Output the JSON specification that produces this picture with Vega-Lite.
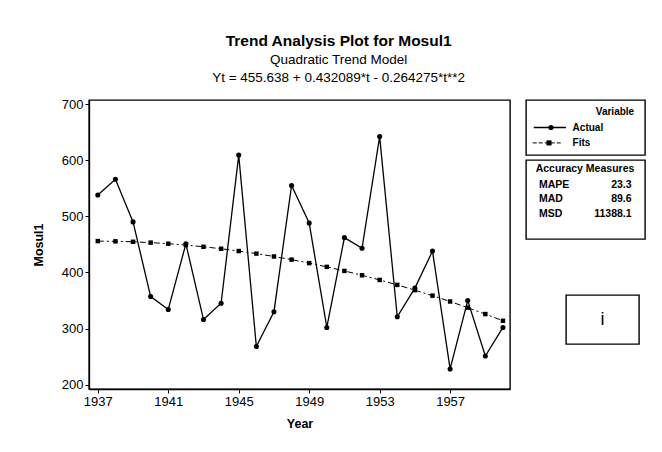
{
  "$schema": "https://vega.github.io/schema/vega-lite/v6.json",
  "background": "white",
  "padding": {"left": 31, "top": 34, "right": 10, "bottom": 8},
  "title": {
    "text": "Trend Analysis Plot for Mosul1",
    "subtitle": ["Quadratic Trend Model", "Yt = 455.638 + 0.432089*t - 0.264275*t**2"],
    "font": "Liberation Sans",
    "fontSize": 15.5,
    "fontWeight": "bold",
    "color": "black",
    "subtitleFont": "Liberation Sans",
    "subtitleFontSize": 13.5,
    "subtitleColor": "black",
    "subtitleLineHeight": 18,
    "subtitlePadding": 3,
    "offset": 13,
    "anchor": "middle"
  },
  "datasets": {
    "series": [
      {"Year": 1937, "Series": "Actual", "Value": 538},
      {"Year": 1938, "Series": "Actual", "Value": 566},
      {"Year": 1939, "Series": "Actual", "Value": 490},
      {"Year": 1940, "Series": "Actual", "Value": 357},
      {"Year": 1941, "Series": "Actual", "Value": 334},
      {"Year": 1942, "Series": "Actual", "Value": 451},
      {"Year": 1943, "Series": "Actual", "Value": 316},
      {"Year": 1944, "Series": "Actual", "Value": 345},
      {"Year": 1945, "Series": "Actual", "Value": 609},
      {"Year": 1946, "Series": "Actual", "Value": 268},
      {"Year": 1947, "Series": "Actual", "Value": 330},
      {"Year": 1948, "Series": "Actual", "Value": 555},
      {"Year": 1949, "Series": "Actual", "Value": 488},
      {"Year": 1950, "Series": "Actual", "Value": 302},
      {"Year": 1951, "Series": "Actual", "Value": 462},
      {"Year": 1952, "Series": "Actual", "Value": 443},
      {"Year": 1953, "Series": "Actual", "Value": 642},
      {"Year": 1954, "Series": "Actual", "Value": 321},
      {"Year": 1955, "Series": "Actual", "Value": 372},
      {"Year": 1956, "Series": "Actual", "Value": 438},
      {"Year": 1957, "Series": "Actual", "Value": 228},
      {"Year": 1958, "Series": "Actual", "Value": 350},
      {"Year": 1959, "Series": "Actual", "Value": 251},
      {"Year": 1960, "Series": "Actual", "Value": 302},
      {"Year": 1937, "Series": "Fits", "Value": 455.8},
      {"Year": 1938, "Series": "Fits", "Value": 455.4},
      {"Year": 1939, "Series": "Fits", "Value": 454.6},
      {"Year": 1940, "Series": "Fits", "Value": 453.1},
      {"Year": 1941, "Series": "Fits", "Value": 451.2},
      {"Year": 1942, "Series": "Fits", "Value": 448.7},
      {"Year": 1943, "Series": "Fits", "Value": 445.7},
      {"Year": 1944, "Series": "Fits", "Value": 442.2},
      {"Year": 1945, "Series": "Fits", "Value": 438.1},
      {"Year": 1946, "Series": "Fits", "Value": 433.5},
      {"Year": 1947, "Series": "Fits", "Value": 428.4},
      {"Year": 1948, "Series": "Fits", "Value": 422.8},
      {"Year": 1949, "Series": "Fits", "Value": 416.6},
      {"Year": 1950, "Series": "Fits", "Value": 409.9},
      {"Year": 1951, "Series": "Fits", "Value": 402.7},
      {"Year": 1952, "Series": "Fits", "Value": 394.9},
      {"Year": 1953, "Series": "Fits", "Value": 386.6},
      {"Year": 1954, "Series": "Fits", "Value": 377.8},
      {"Year": 1955, "Series": "Fits", "Value": 368.4},
      {"Year": 1956, "Series": "Fits", "Value": 358.6},
      {"Year": 1957, "Series": "Fits", "Value": 348.2},
      {"Year": 1958, "Series": "Fits", "Value": 337.2},
      {"Year": 1959, "Series": "Fits", "Value": 325.8},
      {"Year": 1960, "Series": "Fits", "Value": 313.8}
    ],
    "legendLines": [
      {"s": "Actual", "x": 0.78, "y": 0.5},
      {"s": "Actual", "x": 4.03, "y": 0.5},
      {"s": "Fits", "x": 0.68, "y": 0.78},
      {"s": "Fits", "x": 3.53, "y": 0.78}
    ],
    "legendMarks": [
      {"s": "Actual", "x": 2.52, "y": 0.5},
      {"s": "Fits", "x": 2.32, "y": 0.78}
    ],
    "legendText": [
      {"t": "Actual", "x": 4.7, "y": 0.5},
      {"t": "Fits", "x": 4.7, "y": 0.78}
    ],
    "legendTitle": [
      {"t": "Variable", "x": 8.97, "y": 0.21}
    ],
    "accTitle": [
      {"t": "Accuracy Measures", "x": 5.95, "y": 0.11}
    ],
    "acc": [
      {"m": "MAPE", "v": "23.3", "y": 0.32},
      {"m": "MAD", "v": "89.6", "y": 0.49},
      {"m": "MSD", "v": "11388.1", "y": 0.68}
    ],
    "ibox": [
      {"t": "i", "x": 0.5, "y": 0.5}
    ]
  },
  "spacing": 14,
  "hconcat": [
    {
      "width": 421,
      "height": 289,
      "layer": [
        {
          "data": {"name": "series"},
          "transform": [{"filter": "datum.Series === 'Fits'"}],
          "mark": {"type": "line", "color": "black", "strokeWidth": 1, "strokeDash": [6, 3, 2, 3],
                   "point": {"filled": true, "shape": "square", "size": 20, "color": "black"}},
          "encoding": {
            "x": {"field": "Year", "type": "quantitative",
                  "scale": {"domain": [1936.5, 1960.4], "nice": false, "zero": false},
                  "axis": {"values": [1937, 1941, 1945, 1949, 1953, 1957], "format": "d", "title": "Year", "titlePadding": 9}},
            "y": {"field": "Value", "type": "quantitative",
                  "scale": {"domain": [192.3, 707.2], "nice": false, "zero": false},
                  "axis": {"values": [200, 300, 400, 500, 600, 700], "title": "Mosul1", "titlePadding": 16}}
          }
        },
        {
          "data": {"name": "series"},
          "transform": [{"filter": "datum.Series === 'Actual'"}],
          "mark": {"type": "line", "color": "black", "strokeWidth": 1.3,
                   "point": {"filled": true, "shape": "circle", "size": 26, "color": "black"}},
          "encoding": {
            "x": {"field": "Year", "type": "quantitative"},
            "y": {"field": "Value", "type": "quantitative"}
          }
        }
      ]
    },
    {
      "spacing": 54,
      "vconcat": [
        {
          "spacing": 3,
          "vconcat": [
            {
              "width": 119,
              "height": 55,
              "layer": [
                {
                  "data": {"name": "legendLines"},
                  "transform": [{"filter": "datum.s === 'Actual'"}],
                  "mark": {"type": "line", "color": "black", "strokeWidth": 1.3},
                  "encoding": {
                    "x": {"field": "x", "type": "quantitative", "scale": {"domain": [0, 12], "nice": false}, "axis": null},
                    "y": {"field": "y", "type": "quantitative", "scale": {"domain": [0, 1], "reverse": true, "nice": false}, "axis": null}
                  }
                },
                {
                  "data": {"name": "legendLines"},
                  "transform": [{"filter": "datum.s === 'Fits'"}],
                  "mark": {"type": "line", "color": "black", "strokeWidth": 1, "strokeDash": [4, 2]},
                  "encoding": {
                    "x": {"field": "x", "type": "quantitative"},
                    "y": {"field": "y", "type": "quantitative"}
                  }
                },
                {
                  "data": {"name": "legendMarks"},
                  "mark": {"type": "point", "filled": true, "color": "black", "opacity": 1},
                  "encoding": {
                    "x": {"field": "x", "type": "quantitative"},
                    "y": {"field": "y", "type": "quantitative"},
                    "shape": {"field": "s", "type": "nominal", "scale": {"domain": ["Actual", "Fits"], "range": ["circle", "square"]}, "legend": null},
                    "size": {"value": 26}
                  }
                },
                {
                  "data": {"name": "legendText"},
                  "mark": {"type": "text", "align": "left", "baseline": "middle", "fontSize": 10, "fontWeight": "bold", "font": "Liberation Sans"},
                  "encoding": {
                    "x": {"field": "x", "type": "quantitative"},
                    "y": {"field": "y", "type": "quantitative"},
                    "text": {"field": "t"}
                  }
                },
                {
                  "data": {"name": "legendTitle"},
                  "mark": {"type": "text", "align": "center", "baseline": "middle", "fontSize": 10, "fontWeight": "bold", "font": "Liberation Sans"},
                  "encoding": {
                    "x": {"field": "x", "type": "quantitative"},
                    "y": {"field": "y", "type": "quantitative"},
                    "text": {"field": "t"}
                  }
                }
              ]
            },
            {
              "width": 119,
              "height": 79,
              "layer": [
                {
                  "data": {"name": "accTitle"},
                  "mark": {"type": "text", "align": "center", "baseline": "middle", "fontSize": 10.5, "fontWeight": "bold", "font": "Liberation Sans"},
                  "encoding": {
                    "x": {"field": "x", "type": "quantitative", "scale": {"domain": [0, 12], "nice": false}, "axis": null},
                    "y": {"field": "y", "type": "quantitative", "scale": {"domain": [0, 1], "reverse": true, "nice": false}, "axis": null},
                    "text": {"field": "t"}
                  }
                },
                {
                  "data": {"name": "acc"},
                  "mark": {"type": "text", "align": "left", "baseline": "middle", "fontSize": 10.5, "fontWeight": "bold", "font": "Liberation Sans"},
                  "encoding": {
                    "x": {"datum": 1.31, "type": "quantitative"},
                    "y": {"field": "y", "type": "quantitative"},
                    "text": {"field": "m"}
                  }
                },
                {
                  "data": {"name": "acc"},
                  "mark": {"type": "text", "align": "right", "baseline": "middle", "fontSize": 10.5, "fontWeight": "bold", "font": "Liberation Sans"},
                  "encoding": {
                    "x": {"datum": 10.65, "type": "quantitative"},
                    "y": {"field": "y", "type": "quantitative"},
                    "text": {"field": "v"}
                  }
                }
              ]
            }
          ]
        },
        {
          "spacing": 0,
          "hconcat": [
            {
              "width": 39,
              "height": 49,
              "view": {"stroke": null},
              "data": {"name": "ibox"},
              "mark": {"type": "text", "opacity": 0},
              "encoding": {"text": {"value": ""}}
            },
            {
              "width": 73,
              "height": 49,
              "data": {"name": "ibox"},
              "mark": {"type": "text", "align": "center", "baseline": "middle", "fontSize": 18, "font": "Liberation Sans"},
              "encoding": {
                "x": {"field": "x", "type": "quantitative", "scale": {"domain": [0, 1]}, "axis": null},
                "y": {"field": "y", "type": "quantitative", "scale": {"domain": [0, 1]}, "axis": null},
                "text": {"field": "t"}
              }
            }
          ]
        }
      ]
    }
  ],
  "config": {
    "font": "Liberation Sans",
    "view": {"stroke": "black", "strokeWidth": 1.4},
    "axis": {
      "grid": false,
      "labelFont": "Liberation Sans",
      "labelFontSize": 13,
      "labelColor": "black",
      "tickColor": "black",
      "tickSize": 4,
      "domainColor": "black",
      "domainWidth": 1.3,
      "titleFont": "Liberation Sans",
      "titleFontSize": 12.5,
      "titleFontWeight": "bold",
      "titleColor": "black"
    }
  }
}
